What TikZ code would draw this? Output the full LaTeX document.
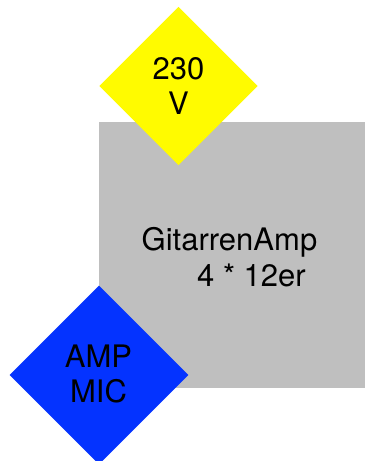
\documentclass[tikz,border=0pt]{standalone}
\usepackage{fontspec}
\setmainfont{TeX Gyre Heros}
\usetikzlibrary{shapes.geometric}
\definecolor{ampgray}{RGB}{191,191,191}
\definecolor{micblue}{RGB}{4,51,255}
\definecolor{voltyellow}{RGB}{255,251,0}
\tikzset{
  lbl/.style={font=\fontsize{31}{35}\selectfont, text=black, inner sep=0pt},
  dia/.style={diamond, inner sep=0pt, minimum width=#1, minimum height=#1, draw=none},
}
\begin{document}
\begin{tikzpicture}[x=1pt,y=-1pt]
\useasboundingbox (0,0) rectangle (365,461);
\node[rectangle, fill=ampgray, minimum width=266pt, minimum height=266pt, inner sep=0pt] (amp) at (232,255) {};
\node[lbl, anchor=base west] (ampa) at (141.5,250) {GitarrenAmp};
\node[lbl, anchor=base west] (ampb) at (197,286.7) {4 * 12er};
\node[dia=158.5pt, fill=voltyellow] (volt) at (178.5,86) {};
\node[lbl, align=center] (voltt) at (volt.center) {230\\V};
\node[dia=179pt, fill=micblue] (mic) at (99,375) {};
\node[lbl, align=center] (mict) at (98.5,373.5) {AMP\\MIC};
\end{tikzpicture}
\end{document}
